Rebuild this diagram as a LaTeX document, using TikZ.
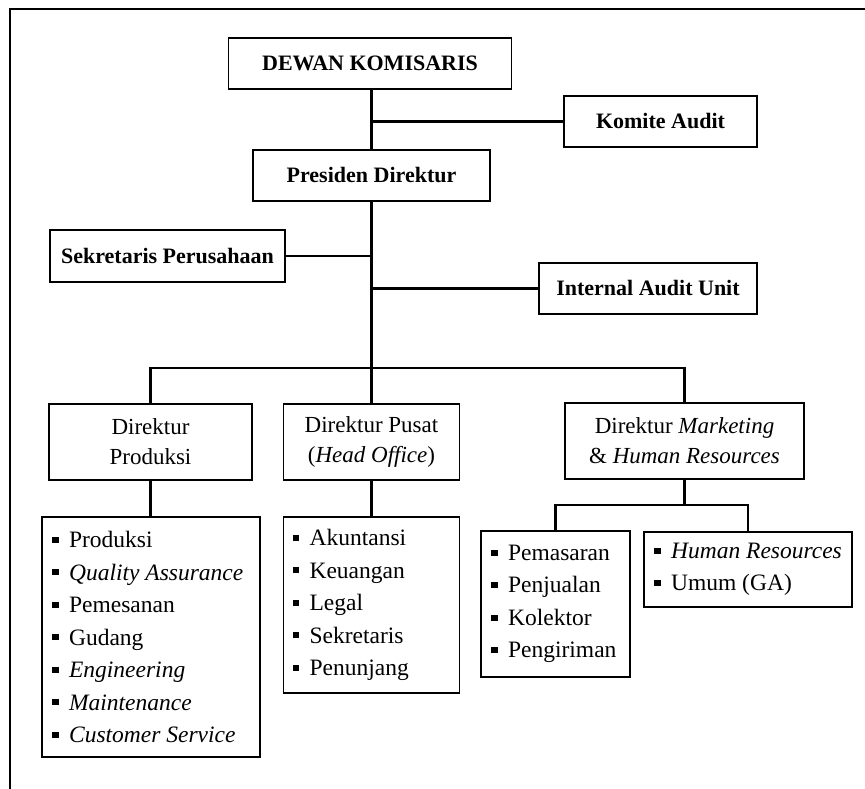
\documentclass[tikz,border=0pt]{standalone}
\usepackage{fontspec}
\setmainfont{Liberation Serif}
\newcommand\sqb{\rule[0.2em]{0.26em}{0.26em}\hspace{0.45em}}
\tikzset{
  box/.style={draw=black, line width=1.6pt, fill=white, inner sep=0pt, align=center},
  topbox/.style={box, font=\fontsize{22}{26}\selectfont\bfseries},
  dirbox/.style={box, font=\fontsize{23}{30}\selectfont},
  listtext/.style={anchor=west, align=left, inner sep=0pt, font=\fontsize{23.5}{32.5}\selectfont},
  conn/.style={line width=2.8pt, line cap=rect},
  frame/.style={line width=2pt}
}
\begin{document}
\begin{tikzpicture}[x=1pt,y=-1pt]
\useasboundingbox (0,0) rectangle (865,789);
% outer frame (partial, as cropped)
\coordinate (ftl) at (10,9);
\coordinate (ftr) at (865,9);
\coordinate (fbl) at (10,789);
\draw[frame] (ftr) -- (ftl) -- (fbl);

% top level
\node[topbox, minimum width=283, minimum height=51] (dewan) at (370,63.5) {DEWAN KOMISARIS};
\node[topbox, minimum width=193, minimum height=51] (komite) at (660.5,121.5) {Komite Audit};
\node[topbox, minimum width=237, minimum height=51] (pres) at (371.5,175.5) {Presiden Direktur};
\node[topbox, minimum width=235, minimum height=52] (sek) at (167.5,256) {Sekretaris Perusahaan};
\node[topbox, minimum width=218, minimum height=51] (iau) at (648,288.5) {Internal Audit Unit};

% directors
\node[dirbox, minimum width=203, minimum height=76] (dprod) at (150.5,442) {Direktur\\Produksi};
\node[dirbox, minimum width=176, minimum height=76] (dpusat) at (371.5,442) {Direktur Pusat\\(\textit{Head Office})};
\node[dirbox, minimum width=239, minimum height=76] (dmkt) at (684.5,441) {Direktur \textit{Marketing}\\\& \textit{Human Resources}};

% list boxes
\node[box, minimum width=218, minimum height=240] (lprod) at (151,637) {};
\node[listtext] (lprodt) at ([xshift=11pt]lprod.west) {\sqb Produksi\\\sqb \textit{Quality Assurance}\\\sqb Pemesanan\\\sqb Gudang\\\sqb \textit{Engineering}\\\sqb \textit{Maintenance}\\\sqb \textit{Customer Service}};

\node[box, minimum width=176, minimum height=176] (lpusat) at (371.5,605) {};
\node[listtext] (lpusatt) at ([xshift=10pt]lpusat.west) {\sqb Akuntansi\\\sqb Keuangan\\\sqb Legal\\\sqb Sekretaris\\\sqb Penunjang};

\node[box, minimum width=149, minimum height=146] (lpem) at (555.5,604) {};
\node[listtext] (lpemt) at ([xshift=11pt]lpem.west) {\sqb Pemasaran\\\sqb Penjualan\\\sqb Kolektor\\\sqb Pengiriman};

\node[box, minimum width=208, minimum height=75] (lhr) at (748,569.5) {};
\node[listtext] (lhrt) at ([xshift=11pt]lhr.west) {\sqb \textit{Human Resources}\\\sqb Umum (GA)};

% connectors
\coordinate (bus) at (371.5,368);
\coordinate (mbus) at (684.5,505);
\draw[conn] (pres.north) -- (pres.north |- dewan.south);
\draw[conn] (komite.west) -- (komite.west -| pres.north);
\draw[conn] (pres.south) -- (bus);
\draw[conn] (sek.east) -- (sek.east -| pres.south);
\draw[conn] (iau.west) -- (iau.west -| pres.south);
\draw[conn] (dprod.north) |- (bus) -| (dmkt.north);
\draw[conn] (dpusat.north) -- (dpusat.north |- bus);
\draw[conn] (dprod.south) -- (dprod.south |- lprod.north);
\draw[conn] (dpusat.south) -- (lpusat.north);
\draw[conn] (dmkt.south) -- (mbus);
\draw[conn] (lpem.north) |- (mbus) -| (lhr.north);
\end{tikzpicture}
\end{document}
